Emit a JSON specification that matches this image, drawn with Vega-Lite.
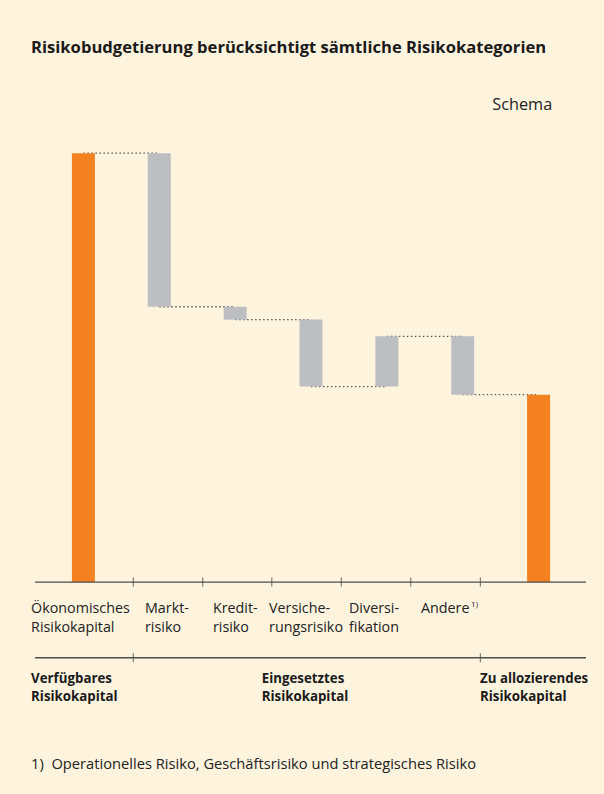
{
  "$schema": "https://vega.github.io/schema/vega-lite/v6.json",
  "width": 551,
  "height": 700,
  "autosize": "none",
  "padding": {"left": 35, "top": 88, "right": 18, "bottom": 6},
  "background": "#fef4de",
  "config": {"view": {"stroke": null}, "font": "Open Sans"},
  "title": {
    "text": "Risikobudgetierung berücksichtigt sämtliche Risikokategorien",
    "anchor": "start",
    "frame": "group",
    "font": "Open Sans",
    "fontSize": 16.6,
    "fontWeight": "bold",
    "color": "#1a1a1a",
    "dx": -4,
    "offset": 31
  },
  "datasets": {
    "bars": [
      {"cat": "Ökonomisches Risikokapital", "idx": 0, "start": 0, "end": 100, "type": "Kapital"},
      {"cat": "Marktrisiko", "idx": 1, "start": 100, "end": 64.2, "type": "Risiko"},
      {"cat": "Kreditrisiko", "idx": 2, "start": 64.2, "end": 61.2, "type": "Risiko"},
      {"cat": "Versicherungsrisiko", "idx": 3, "start": 61.2, "end": 45.6, "type": "Risiko"},
      {"cat": "Diversifikation", "idx": 4, "start": 45.6, "end": 57.3, "type": "Risiko"},
      {"cat": "Andere", "idx": 5, "start": 57.3, "end": 43.7, "type": "Risiko"},
      {"cat": "Zu allozierendes Risikokapital", "idx": 6, "start": 43.7, "end": 0, "type": "Kapital"}
    ],
    "connectors": [
      {"from": 0, "to": 1, "level": 100},
      {"from": 1, "to": 2, "level": 64.2},
      {"from": 2, "to": 3, "level": 61.2},
      {"from": 3, "to": 4, "level": 45.6},
      {"from": 4, "to": 5, "level": 57.3},
      {"from": 5, "to": 6, "level": 43.7}
    ],
    "ticks1": [
      {"pos": 0.658}, {"pos": 1.573}, {"pos": 2.483}, {"pos": 3.4}, {"pos": 4.315}, {"pos": 5.233}
    ],
    "ticks2": [
      {"pos": 0.658}, {"pos": 5.233}
    ],
    "labels": [
      {"text": "Ökonomisches\nRisikokapital", "pos": -0.69},
      {"text": "Markt-\nrisiko", "pos": 0.812},
      {"text": "Kredit-\nrisiko", "pos": 1.708},
      {"text": "Versiche-\nrungsrisiko", "pos": 2.447},
      {"text": "Diversi-\nfikation", "pos": 3.501},
      {"text": "Andere", "pos": 4.45}
    ],
    "groups": [
      {"text": "Verfügbares\nRisikokapital", "pos": -0.69},
      {"text": "Eingesetztes\nRisikokapital", "pos": 2.35},
      {"text": "Zu allozierendes\nRisikokapital", "pos": 5.228}
    ]
  },
  "layer": [
    {
      "data": {"name": "connectors"},
      "mark": {"type": "rule", "color": "#555555", "strokeWidth": 1.3, "strokeDash": [1.5, 2.5]},
      "encoding": {
        "x": {"field": "from", "type": "quantitative", "scale": {"domain": [-0.638, 6.625], "nice": false, "zero": false, "padding": 0}, "axis": null},
        "x2": {"field": "to"},
        "y": {"field": "level", "type": "quantitative", "scale": {"domain": [-48, 115.2], "nice": false, "zero": false, "padding": 0}, "axis": null}
      }
    },
    {
      "data": {"name": "bars"},
      "mark": {"type": "bar", "width": 23},
      "encoding": {
        "x": {"field": "idx", "type": "quantitative", "scale": {"domain": [-0.638, 6.625], "nice": false, "zero": false, "padding": 0}, "axis": null},
        "y": {"field": "start", "type": "quantitative", "scale": {"domain": [-48, 115.2], "nice": false, "zero": false, "padding": 0}, "axis": null},
        "y2": {"field": "end"},
        "color": {"field": "type", "type": "nominal", "scale": {"domain": ["Kapital", "Risiko"], "range": ["#f58220", "#bdbec2"]}, "legend": null}
      }
    },
    {
      "data": {"values": [{"line": 0}, {"line": -17.65}]},
      "mark": {"type": "rule", "color": "#4d4d4d", "strokeWidth": 1.4},
      "encoding": {
        "y": {"field": "line", "type": "quantitative", "scale": {"domain": [-48, 115.2], "nice": false, "zero": false, "padding": 0}, "axis": null}
      }
    },
    {
      "data": {"name": "ticks1"},
      "mark": {"type": "tick", "orient": "vertical", "size": 9, "thickness": 1.2, "color": "#4d4d4d"},
      "encoding": {
        "x": {"field": "pos", "type": "quantitative", "scale": {"domain": [-0.638, 6.625], "nice": false, "zero": false, "padding": 0}, "axis": null},
        "y": {"datum": 0, "type": "quantitative", "scale": {"domain": [-48, 115.2], "nice": false, "zero": false, "padding": 0}, "axis": null}
      }
    },
    {
      "data": {"name": "ticks2"},
      "mark": {"type": "tick", "orient": "vertical", "size": 9, "thickness": 1.2, "color": "#4d4d4d"},
      "encoding": {
        "x": {"field": "pos", "type": "quantitative", "scale": {"domain": [-0.638, 6.625], "nice": false, "zero": false, "padding": 0}, "axis": null},
        "y": {"datum": -17.65, "type": "quantitative", "scale": {"domain": [-48, 115.2], "nice": false, "zero": false, "padding": 0}, "axis": null}
      }
    },
    {
      "data": {"name": "labels"},
      "mark": {"type": "text", "align": "left", "baseline": "alphabetic", "lineBreak": "\n", "lineHeight": 19, "fontSize": 14.3, "color": "#222222", "font": "Open Sans"},
      "encoding": {
        "x": {"field": "pos", "type": "quantitative", "scale": {"domain": [-0.638, 6.625], "nice": false, "zero": false, "padding": 0}, "axis": null},
        "y": {"datum": -7.2, "type": "quantitative", "scale": {"domain": [-48, 115.2], "nice": false, "zero": false, "padding": 0}, "axis": null},
        "text": {"field": "text", "type": "nominal"}
      }
    },
    {
      "data": {"values": [{"sup": "1)"}]},
      "mark": {"type": "text", "align": "left", "baseline": "alphabetic", "fontSize": 8, "color": "#222222", "font": "Open Sans"},
      "encoding": {
        "x": {"datum": 5.11, "type": "quantitative", "scale": {"domain": [-0.638, 6.625], "nice": false, "zero": false, "padding": 0}, "axis": null},
        "y": {"datum": -5.9, "type": "quantitative", "scale": {"domain": [-48, 115.2], "nice": false, "zero": false, "padding": 0}, "axis": null},
        "text": {"field": "sup", "type": "nominal"}
      }
    },
    {
      "data": {"name": "groups"},
      "mark": {"type": "text", "align": "left", "baseline": "alphabetic", "lineBreak": "\n", "lineHeight": 18, "fontSize": 13.3, "fontWeight": "bold", "color": "#1a1a1a", "font": "Open Sans"},
      "encoding": {
        "x": {"field": "pos", "type": "quantitative", "scale": {"domain": [-0.638, 6.625], "nice": false, "zero": false, "padding": 0}, "axis": null},
        "y": {"datum": -23.55, "type": "quantitative", "scale": {"domain": [-48, 115.2], "nice": false, "zero": false, "padding": 0}, "axis": null},
        "text": {"field": "text", "type": "nominal"}
      }
    },
    {
      "data": {"values": [{"t": "Schema"}]},
      "mark": {"type": "text", "align": "right", "baseline": "alphabetic", "fontSize": 16.3, "color": "#222222", "font": "Open Sans"},
      "encoding": {
        "x": {"datum": 6.18, "type": "quantitative", "scale": {"domain": [-0.638, 6.625], "nice": false, "zero": false, "padding": 0}, "axis": null},
        "y": {"datum": 110, "type": "quantitative", "scale": {"domain": [-48, 115.2], "nice": false, "zero": false, "padding": 0}, "axis": null},
        "text": {"field": "t", "type": "nominal"}
      }
    },
    {
      "data": {"values": [{"t": "1)\u00a0\u00a0Operationelles Risiko, Geschäftsrisiko und strategisches Risiko"}]},
      "mark": {"type": "text", "align": "left", "baseline": "alphabetic", "fontSize": 14.7, "color": "#222222", "font": "Open Sans"},
      "encoding": {
        "x": {"datum": -0.69, "type": "quantitative", "scale": {"domain": [-0.638, 6.625], "nice": false, "zero": false, "padding": 0}, "axis": null},
        "y": {"datum": -43.5, "type": "quantitative", "scale": {"domain": [-48, 115.2], "nice": false, "zero": false, "padding": 0}, "axis": null},
        "text": {"field": "t", "type": "nominal"}
      }
    }
  ]
}
